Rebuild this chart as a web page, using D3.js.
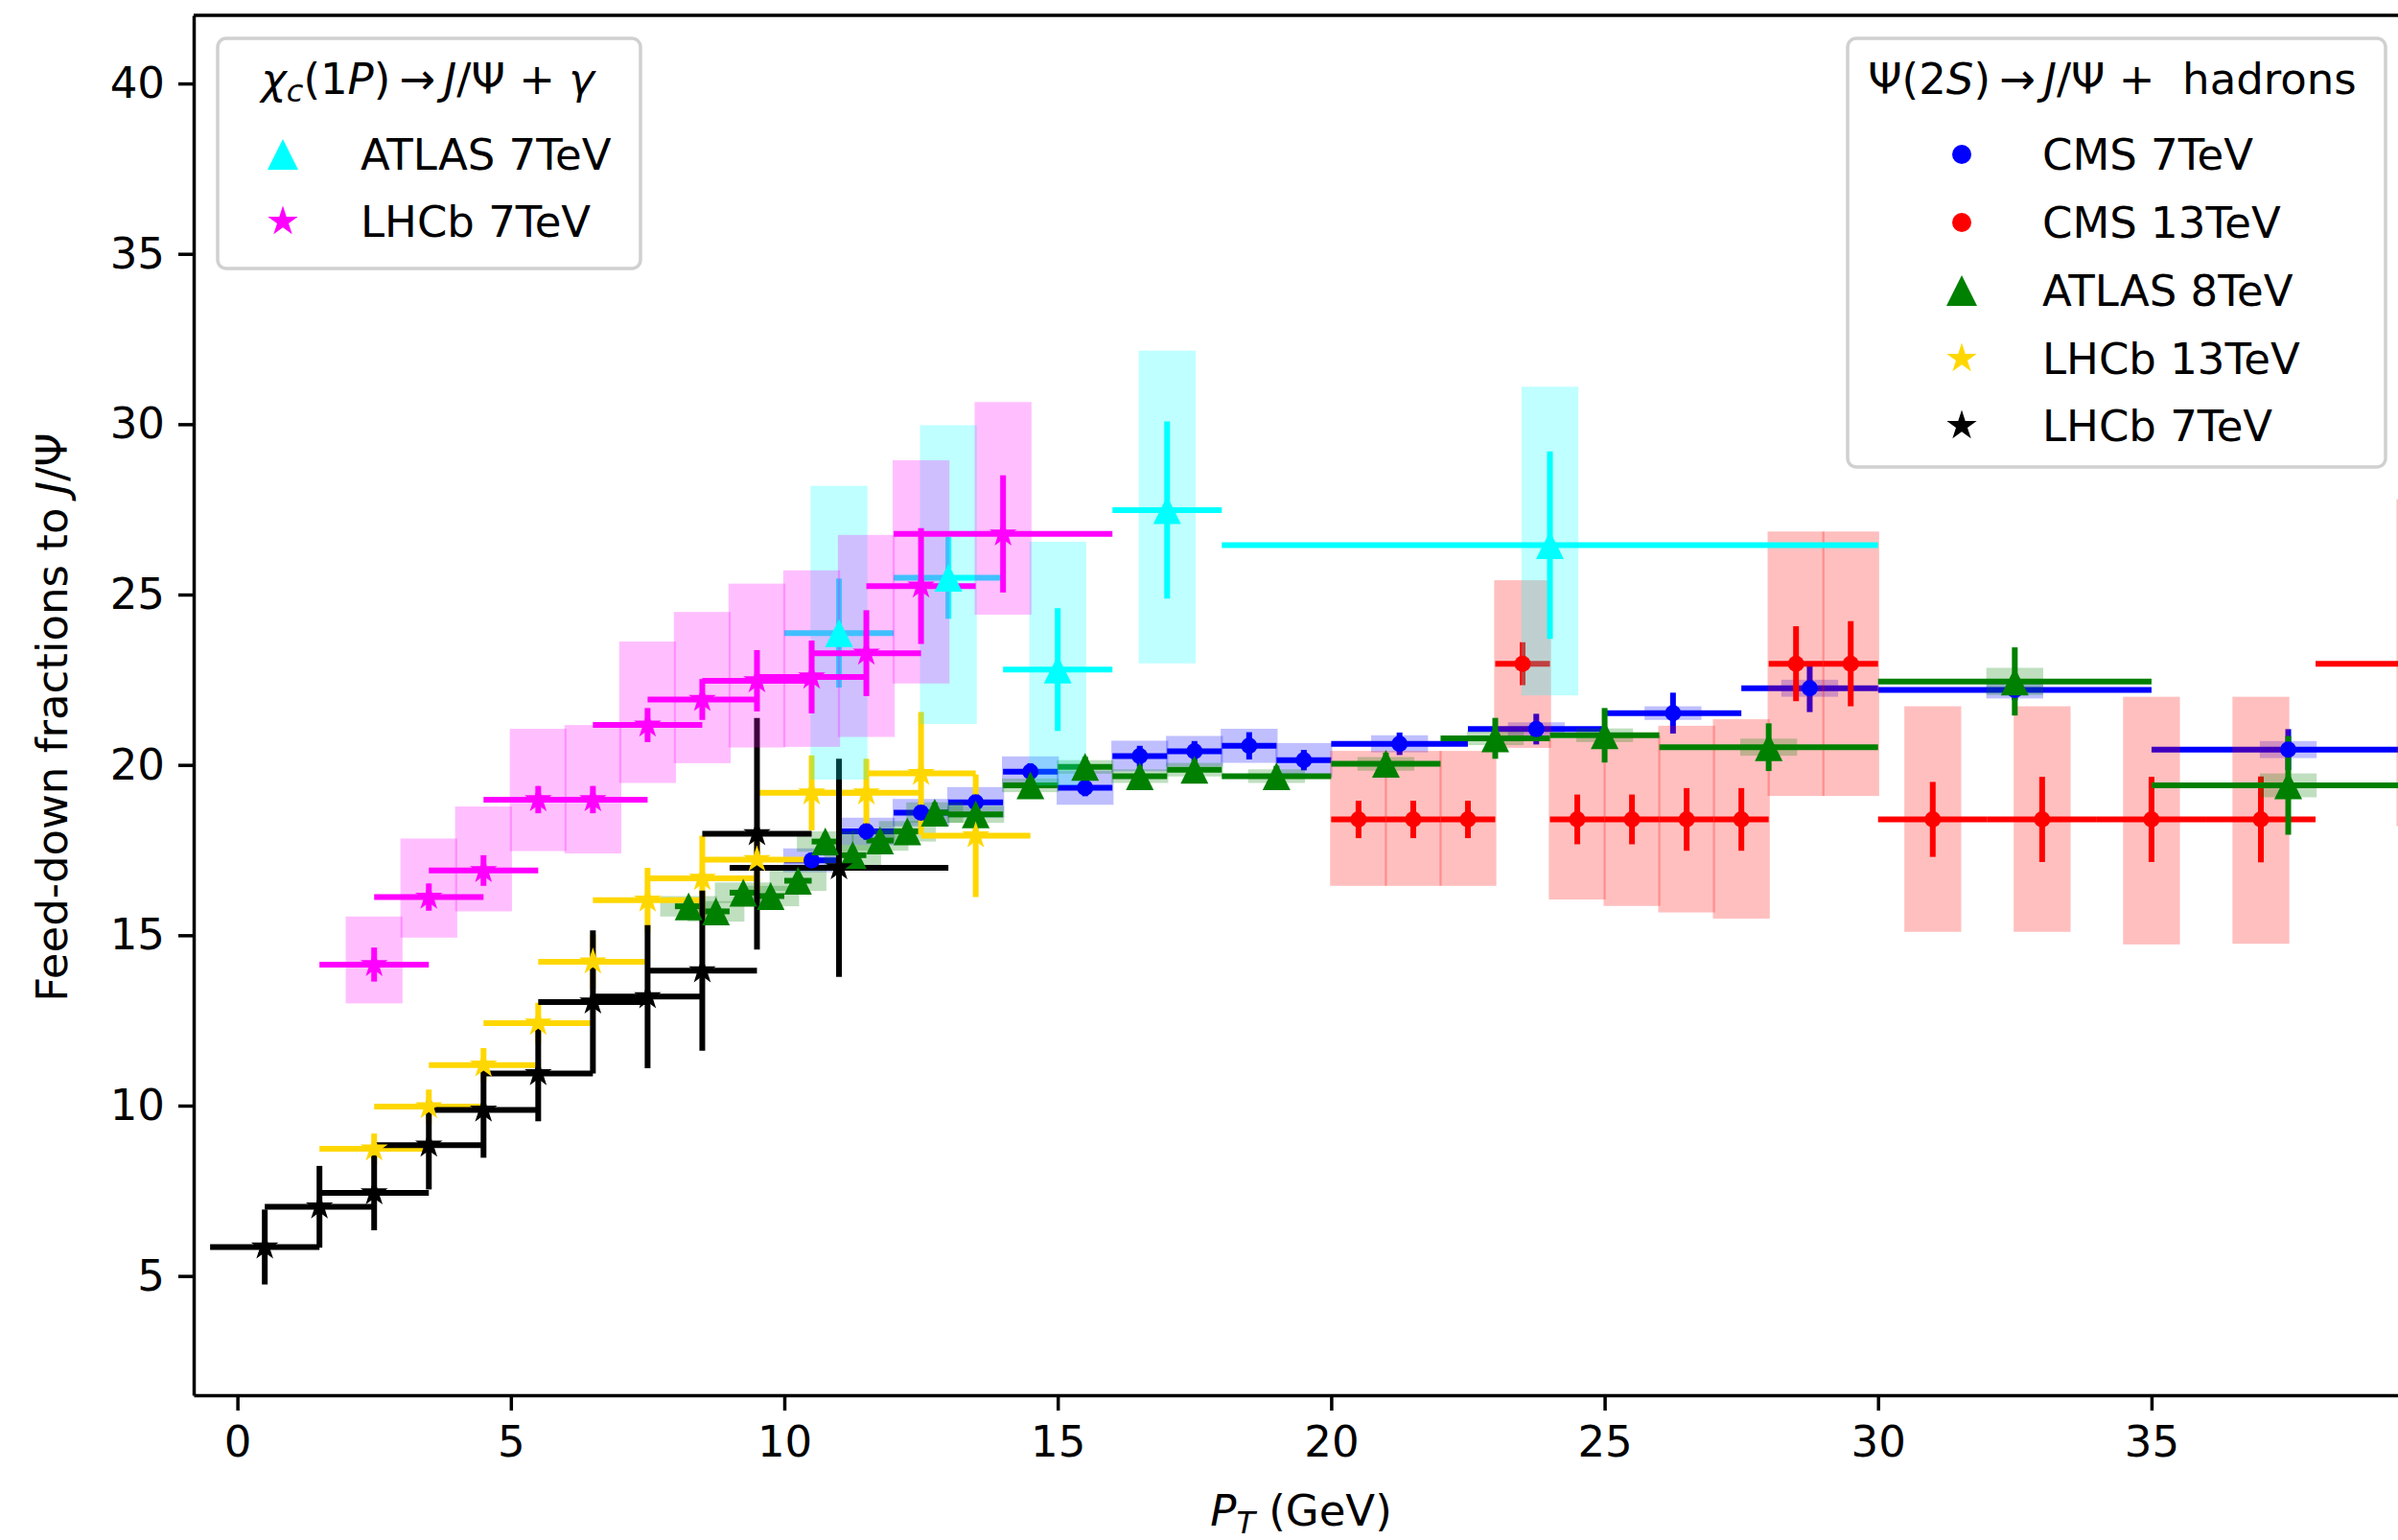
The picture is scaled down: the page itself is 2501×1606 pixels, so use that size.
<!DOCTYPE html>
<html>
<head>
<meta charset="utf-8">
<script src="https://cdn.jsdelivr.net/npm/d3@7"></script>
<style>
    body { margin: 0; background: #fff; }
    svg { display: block; font-family: 'DejaVu Sans', sans-serif; }
</style>
</head>
<body>
<svg width="2501" height="1606"></svg>
<script>
// Axis ticks
const xTicks = [0, 5, 10, 15, 20, 25, 30, 35];
const yTicks = [5, 10, 15, 20, 25, 30, 35, 40];

// Psi(2S) -> J/Psi + hadrons : CMS 7TeV
const cms7X = [10.5, 11.5, 12.5, 13.5, 14.5, 15.5, 16.5, 17.5, 18.5, 19.5, 21.25, 23.75, 26.25, 28.75, 32.5, 37.5];
const cms7Y = [17.2, 18.05, 18.6, 18.9, 19.8, 19.33, 20.26, 20.4, 20.56, 20.14, 20.62, 21.05, 21.52, 22.25, 22.2, 20.45];
const cms7Xerr = [0.5, 0.5, 0.5, 0.5, 0.5, 0.5, 0.5, 0.5, 0.5, 0.5, 1.25, 1.25, 1.25, 1.25, 2.5, 2.5];
const cms7Yerr = [0.2, 0.25, 0.25, 0.25, 0.25, 0.25, 0.3, 0.3, 0.4, 0.3, 0.33, 0.45, 0.6, 0.7, 0.3, 0.6];
const cms7Sys = [0.35, 0.4, 0.4, 0.45, 0.45, 0.5, 0.45, 0.45, 0.5, 0.5, 0.25, 0.2, 0.2, 0.25, 0.25, 0.25];

// CMS 13TeV
const cms13X = [20.5, 21.5, 22.5, 23.5, 24.5, 25.5, 26.5, 27.5, 28.5, 29.5, 31, 33, 35, 37, 40];
const cms13Y = [18.4, 18.4, 18.4, 22.97, 18.4, 18.4, 18.4, 18.4, 22.97, 22.97, 18.4, 18.4, 18.4, 18.4, 22.97];
const cms13Xerr = [0.5, 0.5, 0.5, 0.5, 0.5, 0.5, 0.5, 0.5, 0.5, 0.5, 1, 1, 1, 1, 2];
const cms13Yerr = [0.55, 0.55, 0.55, 0.63, 0.73, 0.73, 0.92, 0.92, 1.1, 1.25, 1.1, 1.25, 1.25, 1.26, 1.3];
const cms13SysLo = [16.45, 16.45, 16.45, 20.5, 16.05, 15.86, 15.67, 15.49, 19.09, 19.09, 15.1, 15.1, 14.73, 14.75, 18.2];
const cms13SysHi = [20.41, 20.41, 20.41, 25.42, 20.78, 20.87, 21.15, 21.34, 26.85, 26.85, 21.72, 21.72, 22.0, 22.0, 27.8];

// ATLAS 8TeV
const atlas8X = [8.25, 8.75, 9.25, 9.75, 10.25, 10.75, 11.25, 11.75, 12.25, 12.75, 13.5, 14.5, 15.5, 16.5, 17.5, 19, 21, 23, 25, 28, 32.5, 37.5];
const atlas8Y = [15.85, 15.7, 16.25, 16.15, 16.6, 17.75, 17.35, 17.78, 18.05, 18.6, 18.55, 19.4, 19.94, 19.67, 19.86, 19.67, 20.03, 20.78, 20.87, 20.52, 22.45, 19.4];
const atlas8Xerr = [0.25, 0.25, 0.25, 0.25, 0.25, 0.25, 0.25, 0.25, 0.25, 0.25, 0.5, 0.5, 0.5, 0.5, 0.5, 1, 1, 1, 1, 2, 2.5, 2.5];
const atlas8Yerr = [0.15, 0.15, 0.2, 0.2, 0.2, 0.25, 0.25, 0.25, 0.25, 0.3, 0.3, 0.3, 0.3, 0.3, 0.3, 0.3, 0.33, 0.6, 0.8, 0.7, 1.0, 1.45];
const atlas8Sys = [0.3, 0.3, 0.3, 0.3, 0.3, 0.3, 0.3, 0.3, 0.3, 0.3, 0.25, 0.2, 0.2, 0.2, 0.2, 0.2, 0.2, 0.2, 0.2, 0.25, 0.4, 0.35];

// LHCb 13TeV
const lhcb13X = [2.5, 3.5, 4.5, 5.5, 6.5, 7.5, 8.5, 9.5, 10.5, 11.5, 12.5, 13.5];
const lhcb13Y = [8.73, 9.97, 11.19, 12.42, 14.22, 16.03, 16.67, 17.22, 19.18, 19.18, 19.75, 17.92];
const lhcb13Xerr = [1, 1, 1, 1, 1, 1, 1, 1, 1, 1, 1, 1];
const lhcb13Yerr = [0.45, 0.5, 0.5, 0.6, 0.8, 0.95, 1.25, 0.9, 1.1, 1.0, 1.8, 1.8];

// LHCb 7TeV (psi)
const lhcb7X = [0.5, 1.5, 2.5, 3.5, 4.5, 5.5, 6.5, 7.5, 8.5, 9.5, 11];
const lhcb7Y = [5.85, 7.03, 7.44, 8.84, 9.87, 10.94, 13.04, 13.2, 13.96, 17.98, 16.98];
const lhcb7Xerr = [1, 1, 1, 1, 1, 1, 1, 1, 1, 1, 2];
const lhcb7Yerr = [1.1, 1.2, 1.1, 1.3, 1.4, 1.4, 2.1, 2.1, 2.35, 3.4, 3.2];

// chi_c(1P) -> J/Psi + gamma : ATLAS 7TeV
const atlasChiX = [11, 13, 15, 17, 24];
const atlasChiY = [23.87, 25.49, 22.8, 27.48, 26.45];
const atlasChiXerr = [1, 1, 1, 1, 6];
const atlasChiYerr = [1.6, 1.2, 1.8, 2.6, 2.75];
const atlasChiSysLo = [19.57, 21.2, 19.4, 22.98, 22.04];
const atlasChiSysHi = [28.19, 29.97, 26.55, 32.16, 31.1];

// LHCb 7TeV (chi_c)
const lhcbChiX = [2.5, 3.5, 4.5, 5.5, 6.5, 7.5, 8.5, 9.5, 10.5, 11.5, 12.5, 14];
const lhcbChiY = [14.14, 16.12, 16.9, 18.98, 18.98, 21.17, 21.92, 22.47, 22.58, 23.28, 25.25, 26.78];
const lhcbChiXerr = [1, 1, 1, 1, 1, 1, 1, 1, 1, 1, 1, 2];
const lhcbChiYerr = [0.5, 0.4, 0.45, 0.4, 0.4, 0.5, 0.6, 0.9, 1.07, 1.26, 1.7, 1.72];
const lhcbChiSysLo = [13.0, 14.93, 15.7, 17.47, 17.4, 19.47, 20.05, 20.51, 20.53, 20.82, 22.39, 24.41];
const lhcbChiSysHi = [15.55, 17.84, 18.78, 21.06, 21.17, 23.62, 24.49, 25.32, 25.71, 26.75, 28.94, 30.65];

// Series table, in drawing order
const series = [
    { label: 'CMS 7TeV', color: '#0000ff', marker: 'o', x: cms7X, y: cms7Y, xerr: cms7Xerr, yerr: cms7Yerr, sys: cms7Sys },
    { label: 'CMS 13TeV', color: '#ff0000', marker: 'o', x: cms13X, y: cms13Y, xerr: cms13Xerr, yerr: cms13Yerr, sysLo: cms13SysLo, sysHi: cms13SysHi },
    { label: 'ATLAS 8TeV', color: '#008000', marker: '^', x: atlas8X, y: atlas8Y, xerr: atlas8Xerr, yerr: atlas8Yerr, sys: atlas8Sys },
    { label: 'LHCb 13TeV', color: '#ffd700', marker: '*', x: lhcb13X, y: lhcb13Y, xerr: lhcb13Xerr, yerr: lhcb13Yerr },
    { label: 'LHCb 7TeV', color: '#000000', marker: '*', x: lhcb7X, y: lhcb7Y, xerr: lhcb7Xerr, yerr: lhcb7Yerr },
    { label: 'ATLAS 7TeV', color: '#00ffff', marker: '^', x: atlasChiX, y: atlasChiY, xerr: atlasChiXerr, yerr: atlasChiYerr, sysLo: atlasChiSysLo, sysHi: atlasChiSysHi },
    { label: 'LHCb 7TeV', color: '#ff00ff', marker: '*', x: lhcbChiX, y: lhcbChiY, xerr: lhcbChiXerr, yerr: lhcbChiYerr, sysLo: lhcbChiSysLo, sysHi: lhcbChiSysHi },
];

// Select SVG container
const svg = d3.select('svg');
const plot = { left: 202, right: 2512, top: 16, bottom: 1455 };
const fontSize = 45;

const xScale = d3.scaleLinear().domain([-0.8, 39.7]).range([plot.left, plot.right]);
const yScale = d3.scaleLinear().domain([1.5, 42]).range([plot.bottom, plot.top]);

// Clip data to the axes box
svg.append('defs')
    .append('clipPath')
    .attr('id', 'plot-clip')
    .append('rect')
    .attr('x', plot.left)
    .attr('y', plot.top)
    .attr('width', plot.right - plot.left)
    .attr('height', plot.bottom - plot.top);

// Marker drawing
function markerPath(shape, s) {
    if (shape === '^') {
        const h = s / 2;
        return `M0,${-h}L${h},${h}L${-h},${h}Z`;
    }
    if (shape === '*') {
        const r = s / 2;
        return d3.symbol(d3.symbolStar, (r * r) / 0.8908130915292852)();
    }
    return d3.symbol(d3.symbolCircle, Math.PI * (s / 2) * (s / 2))();
}
const markerSize = { 'o': 17, '^': 29, '*': 30 };

const data = svg.append('g').attr('clip-path', 'url(#plot-clip)');
const lineLayer = data.append('g');
const markerLayer = data.append('g');
const barWidth = 6;
const boxHalf = 0.52;

series.forEach((s) => {
    const pts = s.x.map((x, i) => ({
        x: x,
        y: s.y[i],
        xerr: s.xerr[i],
        yerr: s.yerr[i],
        lo: s.sysLo ? s.sysLo[i] : s.sys ? s.y[i] - s.sys[i] : null,
        hi: s.sysHi ? s.sysHi[i] : s.sys ? s.y[i] + s.sys[i] : null,
    }));
    const g = lineLayer.append('g');

    // Statistical error bars
    g.selectAll('line.h')
        .data(pts)
        .enter()
        .append('line')
        .attr('x1', (d) => xScale(d.x - d.xerr))
        .attr('x2', (d) => xScale(d.x + d.xerr))
        .attr('y1', (d) => yScale(d.y))
        .attr('y2', (d) => yScale(d.y))
        .attr('stroke', s.color)
        .attr('stroke-width', barWidth);
    g.selectAll('line.v')
        .data(pts)
        .enter()
        .append('line')
        .attr('x1', (d) => xScale(d.x))
        .attr('x2', (d) => xScale(d.x))
        .attr('y1', (d) => yScale(d.y - d.yerr))
        .attr('y2', (d) => yScale(d.y + d.yerr))
        .attr('stroke', s.color)
        .attr('stroke-width', barWidth);

    // Systematic boxes
    if (s.sys || s.sysLo) {
        g.selectAll('rect')
            .data(pts)
            .enter()
            .append('rect')
            .attr('x', (d) => xScale(d.x - boxHalf))
            .attr('width', (d) => xScale(d.x + boxHalf) - xScale(d.x - boxHalf))
            .attr('y', (d) => yScale(d.hi))
            .attr('height', (d) => yScale(d.lo) - yScale(d.hi))
            .attr('fill', s.color)
            .attr('fill-opacity', 0.25);
    }

    // Markers
    markerLayer
        .append('g')
        .selectAll('path')
        .data(pts)
        .enter()
        .append('path')
        .attr('d', markerPath(s.marker, markerSize[s.marker]))
        .attr('transform', (d) => `translate(${xScale(d.x)},${yScale(d.y)})`)
        .attr('fill', s.color);
});

// Axes
function styleAxis(g) {
    g.attr('font-size', fontSize).attr('font-family', 'DejaVu Sans, sans-serif');
    g.selectAll('path, line').attr('stroke', '#000').attr('stroke-width', 3.5);
    g.selectAll('text').attr('fill', '#000');
}
svg.append('g')
    .attr('transform', `translate(0,${plot.bottom})`)
    .call(d3.axisBottom(xScale).tickValues(xTicks).tickSize(16).tickPadding(16).tickSizeOuter(0))
    .call(styleAxis);
svg.append('g')
    .attr('transform', `translate(${plot.left},0)`)
    .call(d3.axisLeft(yScale).tickValues(yTicks).tickSize(16).tickPadding(14).tickSizeOuter(0))
    .call(styleAxis);
svg.append('line')
    .attr('x1', plot.left)
    .attr('x2', plot.right)
    .attr('y1', plot.top)
    .attr('y2', plot.top)
    .attr('stroke', '#000')
    .attr('stroke-width', 3.5);

// Axis labels
function addRich(text, parts) {
    parts.forEach((p) => {
        const t = text.append('tspan').text(p.t);
        if (p.i) t.attr('font-style', 'italic');
        if (p.s) t.attr('font-size', p.s);
        if (p.dy) t.attr('dy', p.dy);
    });
    return text;
}
const xLabel = svg.append('text')
    .attr('x', 1357)
    .attr('y', 1591)
    .attr('text-anchor', 'middle')
    .attr('font-size', fontSize)
    .attr('xml:space', 'preserve');
addRich(xLabel, [
    { t: 'P', i: true },
    { t: 'T', i: true, s: 32, dy: 8 },
    { t: ' (GeV)', dy: -8 },
]);
const yLabel = svg.append('text')
    .attr('transform', 'translate(70,748) rotate(-90)')
    .attr('text-anchor', 'middle')
    .attr('font-size', fontSize)
    .attr('xml:space', 'preserve');
addRich(yLabel, [
    { t: 'Feed-down fractions to ' },
    { t: 'J', i: true },
    { t: '/Ψ' },
]);

// Legends
function drawLegend(box, titleParts, titleX, entries, markerX, textX, rowY) {
    const g = svg.append('g');
    g.append('rect')
        .attr('x', box[0])
        .attr('y', box[1])
        .attr('width', box[2] - box[0])
        .attr('height', box[3] - box[1])
        .attr('rx', 9)
        .attr('fill', '#fff')
        .attr('fill-opacity', 0.8)
        .attr('stroke', '#d0d0d0')
        .attr('stroke-width', 3.5);
    const title = g.append('text')
        .attr('x', titleX)
        .attr('y', 98)
        .attr('text-anchor', 'middle')
        .attr('font-size', fontSize)
        .attr('xml:space', 'preserve');
    addRich(title, titleParts);
    entries.forEach((s, i) => {
        g.append('path')
            .attr('d', markerPath(s.marker, markerSize[s.marker] + 3))
            .attr('transform', `translate(${markerX},${rowY[i]})`)
            .attr('fill', s.color);
        g.append('text')
            .attr('x', textX)
            .attr('y', rowY[i] + 16)
            .attr('font-size', fontSize)
            .text(s.label);
    });
}
drawLegend(
    [227, 40, 668, 280],
    [
        { t: 'χ', i: true },
        { t: 'c', i: true, s: 32, dy: 8 },
        { t: '(1', dy: -8 },
        { t: 'P', i: true },
        { t: ')\u2009→\u2009' },
        { t: 'J', i: true },
        { t: '/Ψ + ' },
        { t: 'γ', i: true },
    ],
    446,
    [series[5], series[6]],
    295,
    376,
    [161, 231]
);
drawLegend(
    [1927, 40, 2488, 487],
    [
        { t: 'Ψ(2' },
        { t: 'S', i: true },
        { t: ')\u2009→\u2009' },
        { t: 'J', i: true },
        { t: '/Ψ +  hadrons' },
    ],
    2203,
    series.slice(0, 5),
    2046,
    2130,
    [161, 232, 303, 374, 444]
);
</script>
</body>
</html>
